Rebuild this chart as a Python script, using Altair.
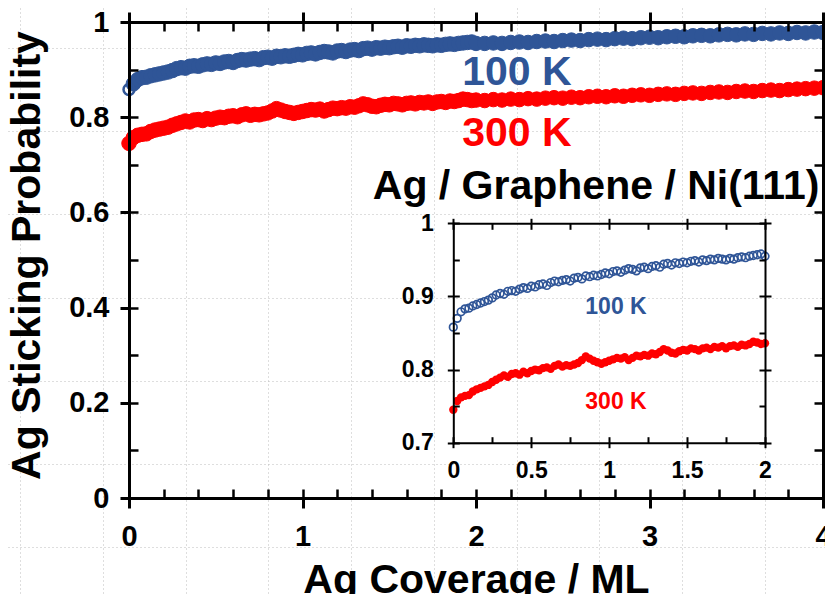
import altair as alt
import pandas as pd

# ---------------- data ----------------
COVERAGE = [
    0.000, 0.025, 0.050, 0.075, 0.100, 0.125, 0.150, 0.175, 0.200, 0.225,
    0.250, 0.275, 0.300, 0.325, 0.350, 0.375, 0.400, 0.425, 0.450, 0.475,
    0.500, 0.525, 0.550, 0.575, 0.600, 0.625, 0.650, 0.675, 0.700, 0.725,
    0.750, 0.775, 0.800, 0.825, 0.850, 0.875, 0.900, 0.925, 0.950, 0.975,
    1.000, 1.025, 1.050, 1.075, 1.100, 1.125, 1.150, 1.175, 1.200, 1.225,
    1.250, 1.275, 1.300, 1.325, 1.350, 1.375, 1.400, 1.425, 1.450, 1.475,
    1.500, 1.525, 1.550, 1.575, 1.600, 1.625, 1.650, 1.675, 1.700, 1.725,
    1.750, 1.775, 1.800, 1.825, 1.850, 1.875, 1.900, 1.925, 1.950, 1.975,
    2.000,
    2.05, 2.10, 2.15, 2.20, 2.25, 2.30, 2.35, 2.40, 2.45, 2.50,
    2.55, 2.60, 2.65, 2.70, 2.75, 2.80, 2.85, 2.90, 2.95, 3.00,
    3.05, 3.10, 3.15, 3.20, 3.25, 3.30, 3.35, 3.40, 3.45, 3.50,
    3.55, 3.60, 3.65, 3.70, 3.75, 3.80, 3.85, 3.90, 3.95, 4.00,
]

P_100K = [
    0.858, 0.870, 0.879, 0.883, 0.884, 0.887, 0.889, 0.891, 0.893, 0.895,
    0.898, 0.902, 0.904, 0.903, 0.907, 0.908, 0.907, 0.910, 0.912, 0.911,
    0.914, 0.913, 0.916, 0.917, 0.915, 0.919, 0.921, 0.920, 0.922, 0.923,
    0.921, 0.925, 0.926, 0.924, 0.928, 0.927, 0.929, 0.928, 0.930, 0.932,
    0.931, 0.934, 0.935, 0.933, 0.936, 0.938, 0.937, 0.935, 0.939, 0.940,
    0.938, 0.941, 0.942, 0.940, 0.944, 0.945, 0.943, 0.946, 0.945, 0.947,
    0.946, 0.948, 0.949, 0.947, 0.950, 0.949, 0.951, 0.950, 0.952, 0.951,
    0.950, 0.952, 0.951, 0.953, 0.954, 0.953, 0.955, 0.956, 0.957, 0.958,
    0.955,
    0.955, 0.956, 0.955, 0.957, 0.958, 0.957, 0.959, 0.960, 0.959, 0.961,
    0.962, 0.961, 0.963, 0.964, 0.963, 0.965, 0.966, 0.965, 0.967, 0.968,
    0.967, 0.969, 0.970, 0.969, 0.971, 0.972, 0.971, 0.973, 0.974, 0.973,
    0.975, 0.974, 0.976, 0.975, 0.977, 0.976, 0.978, 0.977, 0.979, 0.978,
]

P_300K = [
    0.745, 0.757, 0.762, 0.764, 0.765, 0.770, 0.773, 0.775, 0.777, 0.779,
    0.783, 0.786, 0.789, 0.792, 0.790, 0.794, 0.795, 0.793, 0.797, 0.795,
    0.798, 0.800, 0.799, 0.802, 0.803, 0.801, 0.805, 0.807, 0.804, 0.806,
    0.805, 0.807, 0.809, 0.813, 0.818, 0.815, 0.812, 0.810, 0.808, 0.810,
    0.812, 0.814, 0.816, 0.815, 0.817, 0.813, 0.816, 0.819, 0.818, 0.820,
    0.819, 0.822, 0.821, 0.824, 0.828, 0.826, 0.823, 0.822, 0.825, 0.827,
    0.826, 0.829, 0.828, 0.826, 0.829, 0.830, 0.828, 0.831, 0.830, 0.832,
    0.829, 0.832, 0.833, 0.831, 0.834, 0.833, 0.835, 0.838, 0.837, 0.835,
    0.836,
    0.835, 0.837, 0.836, 0.838, 0.837, 0.839, 0.838, 0.840, 0.841, 0.840,
    0.842, 0.841, 0.843, 0.844, 0.843, 0.845, 0.844, 0.846, 0.847, 0.846,
    0.848, 0.849, 0.848, 0.850, 0.851, 0.850, 0.852, 0.853, 0.852, 0.854,
    0.855, 0.854, 0.856, 0.857, 0.856, 0.858, 0.859, 0.860, 0.861, 0.862,
]

# tick values
MAIN_X_MAJOR = [0, 1, 2, 3, 4]
MAIN_X_MINOR = [round(i * 0.2, 1) for i in range(21)]
MAIN_Y_MAJOR = [0, 0.2, 0.4, 0.6, 0.8, 1]
MAIN_Y_MINOR = [round(i * 0.1, 1) for i in range(11)]
INSET_X_MAJOR = [0, 0.5, 1, 1.5, 2]
INSET_X_MINOR = [round(i * 0.25, 2) for i in range(9)]
INSET_Y_MAJOR = [0.7, 0.8, 0.9, 1]
INSET_Y_MINOR = [round(0.7 + i * 0.05, 2) for i in range(7)]

# page guide grid (dotted background lines)
GUIDE_X = [12, 94.8, 177.6, 260.3, 343.1, 425.9, 508.7, 591.4, 674.2, 757]
GUIDE_Y = [40, 123.2, 206.3, 289.5, 372.7, 455.8, 539]

# annotation texts
MAIN_LABELS = ["100 K", "300 K", "Ag / Graphene / Ni(111)"]
INSET_LABELS = ["100 K", "300 K"]

# ---------------- layout / style ----------------
W, H = 817, 586
FONT = "Liberation Sans"
BLUE = "#2F5597"
RED = "#FF0000"
BLACK = "#000000"

MX = dict(domain=[0, 4], range=[121, 815], nice=False, zero=False)
MY = dict(domain=[0, 1], range=[490, 14], nice=False, zero=False)
IX = dict(domain=[0, 2], range=[445.3, 757], nice=False, zero=False)
IY = dict(domain=[0.7, 1], range=[434.7, 215.3], nice=False, zero=False)
GX = dict(domain=[0, W], range=[0, W], nice=False, zero=False)
GY = dict(domain=[0, H], range=[0, H], nice=False, zero=False)

ANNOT_MAIN_POS = [(2.236, 0.893), (2.236, 0.765), (2.692, 0.653)]
ANNOT_INSET_POS = [(1.044, 0.886), (1.044, 0.755)]


def axis(orient, offset, values, size, width=2, domain=False, domain_width=3,
         labels=False, label_size=29, label_pad=10, **extra):
    args = dict(orient=orient, offset=offset, values=values, ticks=True,
                tickSize=size, tickWidth=width, tickColor=BLACK,
                domain=domain, labels=labels, grid=False, zindex=2, title=None)
    if domain:
        args.update(domainColor=BLACK, domainWidth=domain_width, domainCap="square")
    if labels:
        args.update(labelFont=FONT, labelFontSize=label_size, labelFontWeight="bold",
                    labelColor=BLACK, labelPadding=label_pad, labelFlush=False,
                    labelOverlap=False, labelBound=False, format="~g")
    args.update(extra)
    return alt.Axis(**args)


df = pd.DataFrame({"coverage": COVERAGE, "p100": P_100K, "p300": P_300K})

# guide grid layer
grid = alt.Chart(pd.DataFrame({"gx": [0], "gy": [0]})).mark_point(opacity=0).encode(
    x=alt.X("gx:Q", scale=alt.Scale(**GX),
            axis=alt.Axis(orient="top", values=GUIDE_X, grid=True, gridColor="#bcbcbc",
                          gridDash=[1, 3], gridWidth=1, domain=False, ticks=False,
                          labels=False, title=None, zindex=0)),
    y=alt.Y("gy:Q", scale=alt.Scale(**GY),
            axis=alt.Axis(orient="left", values=GUIDE_Y, grid=True, gridColor="#bcbcbc",
                          gridDash=[1, 3], gridWidth=1, domain=False, ticks=False,
                          labels=False, title=None, zindex=0)),
)

# main chart
main_blue = alt.Chart(df).transform_filter("datum.coverage > 0").mark_circle(
    size=210, color=BLUE, opacity=1, stroke=BLUE, strokeWidth=1
).encode(
    x=alt.X("coverage:Q", scale=alt.Scale(**MX),
            axis=axis("bottom", 490 - H, MAIN_X_MAJOR, 10, width=3, domain=True,
                      labels=True, label_size=29, label_pad=14,
                      title="Ag Coverage / ML", titleFont=FONT, titleFontSize=41,
                      titleFontWeight="bold", titleColor=BLACK, titleX=468, titleY=94,
                      titleAlign="center", titleBaseline="alphabetic")),
    y=alt.Y("p100:Q", scale=alt.Scale(**MY),
            axis=axis("left", -121, MAIN_Y_MAJOR, 9, width=3, domain=True,
                      labels=True, label_size=29, label_pad=11,
                      title="Ag Sticking Probability", titleFont=FONT, titleFontSize=41,
                      titleFontWeight="bold", titleColor=BLACK, titleX=-90, titleY=247,
                      titleAngle=270, titleAlign="center", titleBaseline="alphabetic")),
)

main_red = alt.Chart(df).mark_circle(
    size=210, color=RED, opacity=1, stroke=RED, strokeWidth=1
).encode(
    x=alt.X("coverage:Q", scale=alt.Scale(**MX),
            axis=axis("top", -490, MAIN_X_MINOR, 9, width=2.5)),
    y=alt.Y("p300:Q", scale=alt.Scale(**MY),
            axis=axis("right", 121 - W, MAIN_Y_MINOR, 9, width=2.5)),
)

main_first = alt.Chart(df).transform_filter("datum.coverage == 0").mark_point(
    shape="circle", filled=False, size=120, strokeWidth=2.5, color=BLUE, opacity=1
).encode(
    x=alt.X("coverage:Q", scale=alt.Scale(**MX),
            axis=axis("top", -14, MAIN_X_MAJOR, 10, width=3, domain=True)),
    y=alt.Y("p100:Q", scale=alt.Scale(**MY),
            axis=axis("right", 815 - W, MAIN_Y_MAJOR, 10, width=3, domain=True)),
)


def text_layer(label, pos, size, color, xs, ys, xaxis=None, yaxis=None):
    d = pd.DataFrame({"x": [pos[0]], "y": [pos[1]], "t": [label]})
    return alt.Chart(d).mark_text(
        font=FONT, fontSize=size, fontWeight="bold", color=color,
        align="center", baseline="middle"
    ).encode(
        x=alt.X("x:Q", scale=alt.Scale(**xs), axis=xaxis),
        y=alt.Y("y:Q", scale=alt.Scale(**ys), axis=yaxis),
        text="t:N",
    )


t_main_100 = text_layer(MAIN_LABELS[0], ANNOT_MAIN_POS[0], 41, BLUE, MX, MY,
                        axis("bottom", 14 - H, MAIN_X_MINOR, 9, width=2.5),
                        axis("left", -815, MAIN_Y_MINOR, 9, width=2.5))
t_main_300 = text_layer(MAIN_LABELS[1], ANNOT_MAIN_POS[1], 41, RED, MX, MY)
t_main_sys = text_layer(MAIN_LABELS[2], ANNOT_MAIN_POS[2], 41, BLACK, MX, MY)

# inset
inset_df = alt.Chart(df).transform_filter("datum.coverage <= 2")

inset_blue = inset_df.mark_point(
    shape="circle", filled=False, size=58, strokeWidth=1.7, color=BLUE, opacity=1
).encode(
    x=alt.X("coverage:Q", scale=alt.Scale(**IX),
            axis=axis("bottom", 434.7 - H, INSET_X_MAJOR, 5, width=2, domain=True,
                      domain_width=2, labels=True, label_size=23, label_pad=12)),
    y=alt.Y("p100:Q", scale=alt.Scale(**IY),
            axis=axis("left", -445.3, INSET_Y_MAJOR, 6, width=2, domain=True,
                      domain_width=2, labels=True, label_size=23, label_pad=14)),
)

inset_red = inset_df.mark_circle(size=70, color=RED, opacity=1).encode(
    x=alt.X("coverage:Q", scale=alt.Scale(**IX),
            axis=axis("top", -434.7, INSET_X_MINOR, 6, width=2)),
    y=alt.Y("p300:Q", scale=alt.Scale(**IY),
            axis=axis("right", 445.3 - W, INSET_Y_MINOR, 6, width=2)),
)

t_inset_100 = text_layer(INSET_LABELS[0], ANNOT_INSET_POS[0], 23, BLUE, IX, IY,
                         axis("top", -215.3, INSET_X_MAJOR, 5, width=2, domain=True,
                              domain_width=2),
                         axis("right", 757 - W, INSET_Y_MAJOR, 6, width=2, domain=True,
                              domain_width=2))
t_inset_300 = text_layer(INSET_LABELS[1], ANNOT_INSET_POS[1], 23, RED, IX, IY,
                         axis("bottom", 215.3 - H, INSET_X_MINOR, 6, width=2),
                         axis("left", -757, INSET_Y_MINOR, 6, width=2))

chart = alt.layer(
    grid, main_red, main_blue, main_first, t_main_100, t_main_300, t_main_sys,
    inset_red, inset_blue, t_inset_100, t_inset_300,
).resolve_scale(x="independent", y="independent").resolve_axis(
    x="independent", y="independent"
).properties(
    width=W, height=H, padding=0, autosize=alt.AutoSizeParams(type="none"),
    background="white",
).configure_view(stroke=None)

chart.save("out.html", embed_options={"renderer": "svg", "actions": False})
